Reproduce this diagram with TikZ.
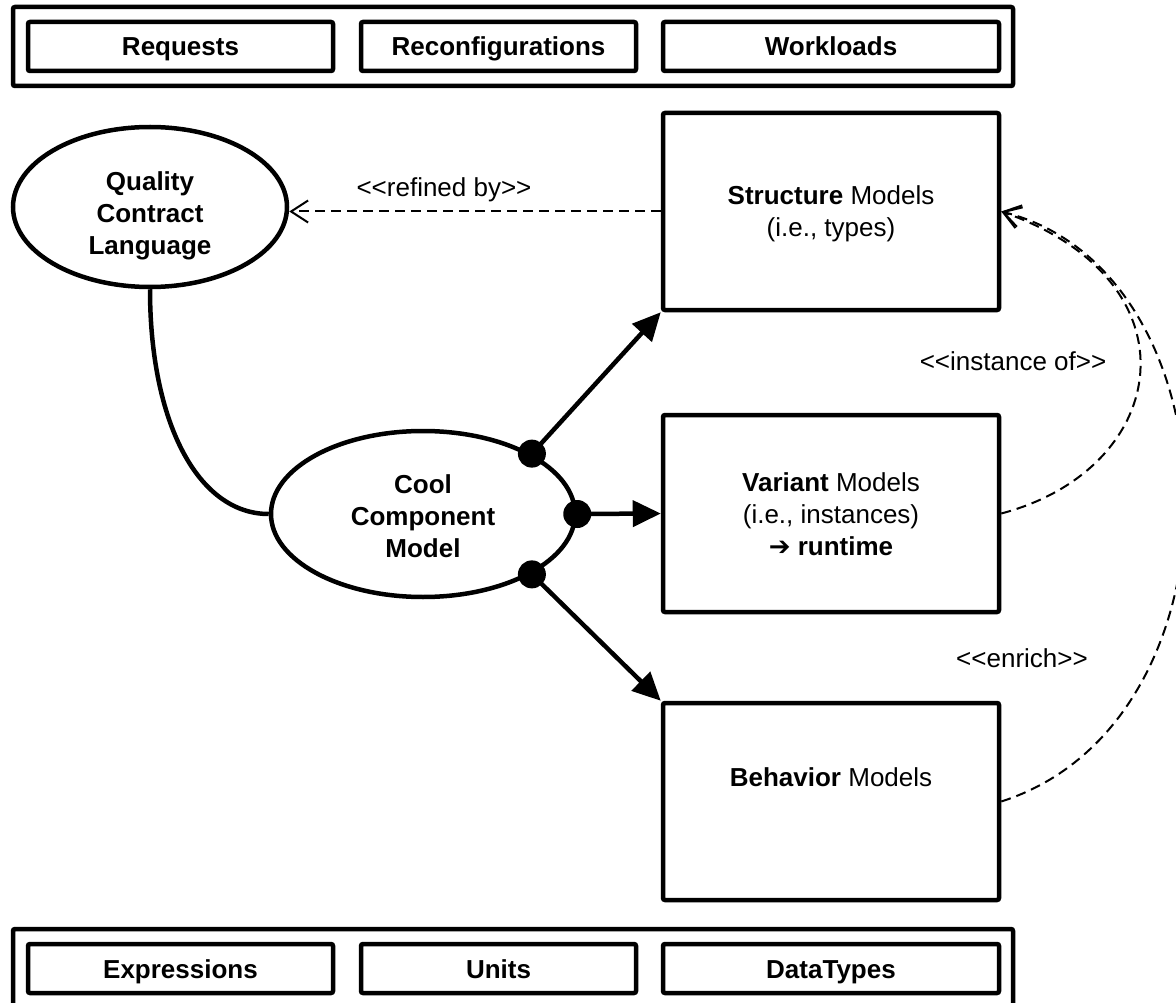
\documentclass[tikz,border=0pt]{standalone}
\usepackage{fontspec}
\setmainfont{Liberation Sans}
\newfontfamily\symfont{DejaVu Sans}
\usetikzlibrary{arrows.meta,shapes.geometric,calc}

\begin{document}
\begin{tikzpicture}[x=1pt,y=-1pt,
  every node/.style={font=\fontsize{26}{32}\selectfont, align=center, inner sep=0pt},
  frame/.style={draw, line width=4.5pt, rounded corners=2pt},
  bar/.style={frame, minimum width=1000pt, minimum height=79pt},
  cell/.style={frame, minimum height=49pt, text height=19pt, text depth=0pt,
               font=\fontsize{26}{32}\selectfont\bfseries},
  model/.style={frame, minimum width=336pt, minimum height=197pt},
  blob/.style={ellipse, draw, line width=4.5pt},
  blobtext/.style={font=\fontsize{26}{32}\selectfont\bfseries},
  dot/.style={circle, fill, minimum size=28pt},
  link/.style={line width=4.5pt, -{Triangle[length=28pt,width=26pt]}},
  dep/.style={line width=2pt, dash pattern=on 10pt off 6pt,
              -{Straight Barb[length=17pt,width=22pt]}},
  lbl/.style={font=\fontsize{26}{32}\selectfont}
]
\useasboundingbox (0,0) rectangle (1176,1003);
\fill[white] (0,0) rectangle (1176,1003);

% runtime layer
\node[bar] (top) at (513,46.5) {};
\node[cell, minimum width=305pt] (requests) at (180.5,46.5) {Requests};
\node[cell, minimum width=275pt] (reconf) at (498.5,46.5) {Reconfigurations};
\node[cell, minimum width=336pt] (workloads) at (831,46.5) {Workloads};

% base layer
\node[bar] (bottom) at (513,968.5) {};
\node[cell, minimum width=305pt] (expr) at (180.5,968.5) {Expressions};
\node[cell, minimum width=275pt] (units) at (498.5,968.5) {Units};
\node[cell, minimum width=336pt] (types) at (831,968.5) {DataTypes};

% model boxes
\node[model] (structure) at (831,211.5) {};
\node (structuretext) at (831,214) {\textbf{Structure} Models\\(i.e., types)};
\node[model] (variant) at (831,513.5) {};
\node (varianttext) at (831,514) {\textbf{Variant} Models\\(i.e., instances)\\\textbf{{\symfont ➔} runtime}};
\node[model] (behavior) at (831,801.5) {};
\node (behaviortext) at (831,777) {\textbf{Behavior} Models};

% languages
\node[blob, minimum width=274pt, minimum height=160pt] (qcl) at (150,207) {};
\node[blobtext] (qcltext) at (150,216) {Quality\\Contract\\Language};
\node[blob, minimum width=304pt, minimum height=166pt] (ccm) at (423,514) {};
\node[blobtext] (ccmtext) at (423,516) {Cool\\Component\\Model};

\draw[line width=4.5pt] (qcl.south) .. controls ($(qcl.south)+(0,133)$) and ($(ccm.west)+(-71,0)$) .. (ccm.west);

% ports of the component model
\node[dot] (p1) at (ccm.29) {};
\node[dot] (p2) at (ccm.0) {};
\node[dot] (p3) at (ccm.-29) {};

\draw[link] (p1.center) -- (structure.south west);
\draw[link] (p2.center) -- (variant.west);
\draw[link] (p3.center) -- (behavior.north west);

% dependencies
\draw[dep] (structure.west) -- (qcl.east |- structure.west);
\draw[dep] (variant.east) .. controls ($(variant.east)+(170,-45)$) and ($(structure.east)+(200,70)$) .. (structure.east);
\draw[dep] (behavior.east) .. controls ($(behavior.east)+(250,-80)$) and ($(structure.east)+(240,60)$) .. (structure.east);

\node[lbl] (refined) at (444,190) {<{}<refined by>{}>};
\node[lbl] (instance) at (1013,361) {<{}<instance of>{}>};
\node[lbl] (enrich) at (1022,658) {<{}<enrich>{}>};
\end{tikzpicture}
\end{document}
